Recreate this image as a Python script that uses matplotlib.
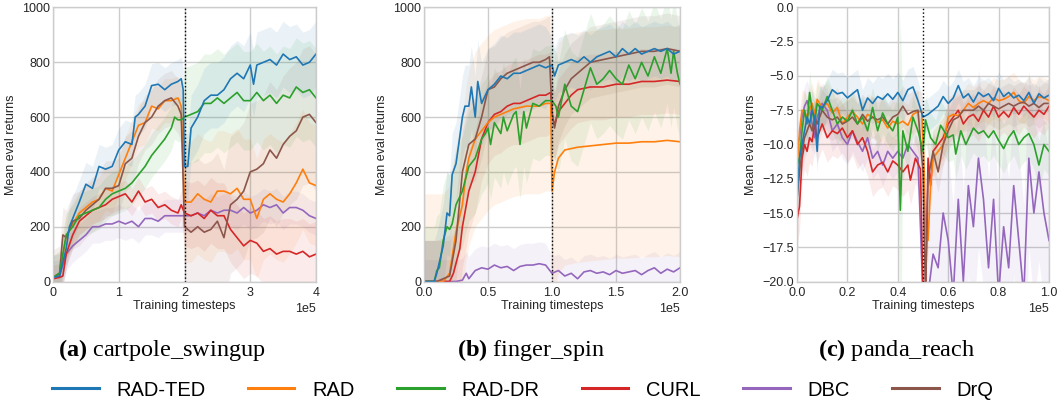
import numpy as np
import matplotlib
matplotlib.use("Agg")
import matplotlib.pyplot as plt
from matplotlib.lines import Line2D

plt.rcParams.update({
    "font.family": ["Liberation Sans", "DejaVu Sans"],
    "font.size": 9,
    "axes.edgecolor": "#cccccc",
    "axes.linewidth": 1.0,
    "axes.grid": True,
    "grid.color": "#cccccc",
    "grid.linewidth": 1.0,
    "xtick.major.size": 0,
    "ytick.major.size": 0,
    "xtick.major.pad": 4,
    "ytick.major.pad": 2,
    "xtick.color": "#262626",
    "ytick.color": "#262626",
    "axes.labelcolor": "#262626",
    "mathtext.fontset": "custom",
    "mathtext.rm": "Liberation Serif",
    "mathtext.bf": "Liberation Serif:bold",
})

METHODS = ["RAD-TED", "RAD", "RAD-DR", "CURL", "DBC", "DrQ"]
COLORS = ["#1f77b4", "#ff7f0e", "#2ca02c", "#d62728", "#9467bd", "#8c564b"]
CAPTIONS = [r"$\mathbf{(a)}$ cartpole_swingup", r"$\mathbf{(b)}$ finger_spin", r"$\mathbf{(c)}$ panda_reach"]

# ---------------- Panel (a) cartpole_swingup (x in 1e5 steps) ----------------
A_SWITCH = 2.0
A_TED_X = [0, 0.1, 0.2, 0.25, 0.3, 0.4, 0.5, 0.6, 0.7, 0.8, 0.9, 1.0, 1.1, 1.2, 1.25, 1.3, 1.4, 1.5, 1.6, 1.7, 1.8, 1.9, 1.95, 1.98, 2.0, 2.05, 2.1, 2.2, 2.3, 2.4, 2.5, 2.6, 2.7, 2.8, 2.9, 3.0, 3.05, 3.1, 3.2, 3.3, 3.4, 3.5, 3.6, 3.7, 3.8, 3.9, 4.0]
A_TED_Y = [15, 20, 120, 200, 230, 290, 355, 340, 420, 410, 420, 480, 510, 500, 600, 610, 640, 715, 720, 700, 720, 730, 740, 700, 420, 420, 560, 600, 660, 680, 680, 700, 740, 760, 740, 790, 720, 790, 800, 810, 790, 830, 810, 820, 790, 800, 830]
A_RAD_X = [0, 0.1, 0.2, 0.3, 0.4, 0.5, 0.6, 0.7, 0.8, 0.9, 1.0, 1.1, 1.2, 1.3, 1.4, 1.5, 1.6, 1.7, 1.8, 1.9, 1.95, 2.0, 2.1, 2.2, 2.3, 2.4, 2.5, 2.6, 2.7, 2.8, 2.9, 3.0, 3.1, 3.2, 3.3, 3.4, 3.5, 3.6, 3.7, 3.8, 3.9, 4.0]
A_RAD_Y = [15, 30, 160, 210, 250, 270, 290, 300, 340, 330, 390, 450, 510, 570, 580, 640, 630, 660, 660, 670, 640, 290, 290, 320, 300, 290, 330, 330, 320, 340, 300, 300, 230, 300, 320, 300, 290, 320, 360, 410, 360, 350]
A_DR_X = [0, 0.1, 0.2, 0.3, 0.4, 0.5, 0.6, 0.7, 0.8, 0.9, 1.0, 1.1, 1.2, 1.3, 1.4, 1.5, 1.6, 1.7, 1.8, 1.85, 1.9, 1.95, 2.0, 2.1, 2.2, 2.3, 2.4, 2.5, 2.6, 2.7, 2.8, 2.9, 3.0, 3.1, 3.2, 3.3, 3.4, 3.5, 3.6, 3.7, 3.8, 3.9, 4.0]
A_DR_Y = [15, 30, 170, 200, 240, 250, 260, 270, 300, 320, 330, 340, 360, 390, 420, 460, 490, 520, 560, 600, 590, 590, 600, 610, 620, 650, 650, 670, 650, 670, 690, 660, 660, 690, 660, 680, 650, 680, 670, 710, 690, 700, 670]
A_CURL_X = [0, 0.1, 0.15, 0.2, 0.3, 0.4, 0.5, 0.6, 0.7, 0.8, 0.9, 1.0, 1.1, 1.2, 1.3, 1.4, 1.5, 1.6, 1.7, 1.8, 1.9, 1.95, 2.0, 2.1, 2.2, 2.3, 2.4, 2.5, 2.6, 2.7, 2.8, 2.9, 3.0, 3.1, 3.2, 3.3, 3.4, 3.5, 3.6, 3.7, 3.8, 3.9, 4.0]
A_CURL_Y = [10, 15, 20, 100, 170, 220, 240, 260, 270, 280, 300, 310, 320, 290, 330, 290, 300, 270, 280, 260, 250, 280, 250, 240, 250, 230, 260, 240, 240, 190, 160, 130, 150, 140, 110, 120, 100, 110, 110, 100, 110, 90, 100]
A_DBC_X = [0, 0.1, 0.2, 0.3, 0.4, 0.5, 0.6, 0.7, 0.8, 0.9, 1.0, 1.1, 1.2, 1.3, 1.4, 1.5, 1.6, 1.7, 1.8, 1.9, 2.0, 2.1, 2.2, 2.3, 2.4, 2.5, 2.6, 2.7, 2.8, 2.9, 3.0, 3.1, 3.2, 3.3, 3.4, 3.5, 3.6, 3.7, 3.8, 3.9, 4.0]
A_DBC_Y = [15, 20, 100, 130, 150, 170, 200, 200, 210, 210, 220, 210, 220, 200, 230, 230, 220, 240, 240, 240, 240, 240, 250, 240, 260, 250, 260, 260, 250, 270, 250, 260, 280, 270, 280, 250, 270, 270, 260, 240, 230]
A_DRQ_X = [0, 0.1, 0.15, 0.2, 0.3, 0.4, 0.5, 0.6, 0.7, 0.8, 0.9, 1.0, 1.1, 1.2, 1.3, 1.4, 1.5, 1.6, 1.7, 1.8, 1.9, 1.95, 2.0, 2.1, 2.2, 2.3, 2.4, 2.5, 2.6, 2.7, 2.8, 2.9, 3.0, 3.1, 3.2, 3.3, 3.4, 3.5, 3.6, 3.7, 3.8, 3.9, 4.0]
A_DRQ_Y = [15, 30, 170, 160, 220, 230, 260, 280, 300, 340, 340, 350, 430, 450, 530, 580, 600, 640, 660, 670, 640, 610, 200, 180, 200, 180, 190, 220, 160, 280, 300, 330, 400, 410, 430, 480, 450, 500, 530, 550, 600, 610, 580]
A_SPREAD_PRE = [80, 80, 80, 50, 60, 100]
A_SPREAD_POST = [120, 220, 180, 120, 60, 250]

# ---------------- Panel (b) finger_spin ----------------
B_SWITCH = 1.0
B_TED_X = [0, 0.05, 0.08, 0.1, 0.15, 0.18, 0.2, 0.22, 0.25, 0.28, 0.3, 0.32, 0.35, 0.37, 0.4, 0.42, 0.45, 0.5, 0.55, 0.6, 0.65, 0.7, 0.75, 0.8, 0.85, 0.9, 0.95, 1.0, 1.02, 1.05, 1.1, 1.15, 1.2, 1.25, 1.3, 1.35, 1.4, 1.45, 1.5, 1.55, 1.6, 1.65, 1.7, 1.75, 1.8, 1.85, 1.9, 1.95, 2.0]
B_TED_Y = [0, 0, 0, 30, 130, 250, 240, 390, 430, 530, 600, 640, 640, 710, 600, 730, 650, 700, 720, 750, 740, 760, 760, 770, 780, 790, 780, 790, 750, 790, 800, 810, 800, 820, 800, 820, 830, 840, 820, 850, 830, 850, 830, 840, 850, 840, 850, 830, 840]
B_RAD_X = [0, 0.15, 0.2, 0.25, 0.3, 0.33, 0.35, 0.4, 0.45, 0.5, 0.55, 0.6, 0.7, 0.8, 0.9, 0.95, 0.99, 1.0, 1.02, 1.05, 1.1, 1.2, 1.3, 1.4, 1.5, 1.6, 1.7, 1.8, 1.9, 2.0]
B_RAD_Y = [0, 0, 30, 180, 280, 400, 450, 520, 550, 580, 600, 610, 630, 640, 640, 650, 650, 330, 400, 450, 480, 490, 495, 500, 505, 505, 510, 510, 515, 510]
B_DR_X = [0, 0.08, 0.1, 0.12, 0.15, 0.18, 0.2, 0.22, 0.25, 0.3, 0.35, 0.4, 0.45, 0.48, 0.5, 0.52, 0.55, 0.6, 0.62, 0.65, 0.7, 0.72, 0.75, 0.78, 0.8, 0.85, 0.9, 0.95, 1.0, 1.03, 1.05, 1.1, 1.15, 1.2, 1.25, 1.3, 1.35, 1.4, 1.45, 1.5, 1.55, 1.6, 1.65, 1.7, 1.75, 1.8, 1.85, 1.9, 1.93, 1.95, 1.98, 2.0]
B_DR_Y = [0, 0, 40, 50, 150, 200, 190, 210, 280, 330, 420, 450, 520, 540, 560, 500, 580, 540, 600, 550, 610, 620, 500, 620, 560, 650, 640, 660, 660, 640, 600, 720, 640, 620, 700, 780, 720, 740, 770, 740, 720, 790, 740, 800, 750, 820, 760, 850, 760, 840, 760, 720]
B_CURL_X = [0, 0.2, 0.23, 0.28, 0.3, 0.35, 0.4, 0.45, 0.5, 0.55, 0.6, 0.65, 0.7, 0.75, 0.8, 0.85, 0.9, 0.95, 0.99, 1.0, 1.02, 1.05, 1.1, 1.15, 1.2, 1.3, 1.4, 1.5, 1.6, 1.7, 1.8, 1.9, 2.0]
B_CURL_Y = [0, 0, 30, 120, 200, 330, 400, 520, 580, 610, 620, 640, 650, 650, 660, 670, 680, 680, 690, 610, 570, 620, 650, 680, 700, 710, 710, 720, 720, 730, 730, 735, 730]
B_DBC_X = [0, 0.25, 0.3, 0.33, 0.35, 0.4, 0.45, 0.5, 0.55, 0.6, 0.65, 0.7, 0.75, 0.8, 0.85, 0.9, 0.95, 1.0, 1.05, 1.1, 1.15, 1.2, 1.25, 1.3, 1.35, 1.4, 1.45, 1.5, 1.55, 1.6, 1.65, 1.7, 1.75, 1.8, 1.85, 1.9, 1.95, 2.0]
B_DBC_Y = [0, 0, 5, 30, 10, 40, 50, 45, 60, 50, 55, 40, 55, 60, 60, 65, 60, 30, 40, 20, 30, 10, 35, 40, 30, 35, 25, 40, 30, 35, 40, 25, 40, 50, 30, 45, 35, 50]
B_DRQ_X = [0, 0.1, 0.15, 0.2, 0.25, 0.28, 0.3, 0.35, 0.4, 0.45, 0.5, 0.55, 0.6, 0.65, 0.7, 0.75, 0.8, 0.85, 0.9, 0.95, 0.98, 1.0, 1.02, 1.05, 1.1, 1.15, 1.2, 1.3, 1.4, 1.5, 1.6, 1.7, 1.8, 1.9, 2.0]
B_DRQ_Y = [0, 0, 10, 20, 150, 300, 400, 500, 520, 600, 700, 710, 740, 760, 770, 780, 790, 800, 800, 810, 820, 620, 560, 640, 700, 740, 760, 800, 810, 820, 830, 840, 840, 850, 840]
B_SPREAD_PRE = [150, 320, 200, 150, 80, 150]
B_SPREAD_POST = [100, 420, 200, 120, 60, 130]

# ---------------- Panel (c) panda_reach ----------------
C_SWITCH = 0.5
C_TED_X = [0, 0.01, 0.02, 0.03, 0.04, 0.05, 0.06, 0.07, 0.08, 0.09, 0.1, 0.12, 0.14, 0.16, 0.18, 0.2, 0.22, 0.24, 0.26, 0.28, 0.3, 0.32, 0.34, 0.36, 0.38, 0.4, 0.42, 0.44, 0.46, 0.48, 0.5, 0.52, 0.54, 0.56, 0.58, 0.6, 0.62, 0.64, 0.66, 0.68, 0.7, 0.72, 0.74, 0.76, 0.78, 0.8, 0.82, 0.84, 0.86, 0.88, 0.9, 0.92, 0.94, 0.96, 0.98, 1.0]
C_TED_Y = [-14, -11, -10, -9, -8, -8.5, -7.5, -8, -10.5, -7.2, -7.3, -6.8, -6, -6.3, -6.2, -6.6, -6.3, -6, -7.5, -6.6, -7, -6.5, -6.7, -6.3, -6.7, -6.2, -6.8, -6, -5.8, -6.8, -8, -7.8, -7.5, -7.2, -6.5, -7, -6.6, -5.7, -6.6, -6.3, -6.9, -6.2, -6.5, -6.3, -6.8, -5.9, -6.5, -6.2, -6.6, -6.4, -6.8, -6.2, -7, -6.3, -6.6, -6.4]
C_RAD_X = [0, 0.01, 0.02, 0.03, 0.04, 0.05, 0.06, 0.07, 0.08, 0.1, 0.12, 0.14, 0.16, 0.18, 0.2, 0.22, 0.24, 0.26, 0.28, 0.3, 0.32, 0.34, 0.36, 0.38, 0.4, 0.42, 0.44, 0.46, 0.48, 0.495, 0.505, 0.51, 0.52, 0.53, 0.54, 0.56, 0.58, 0.6, 0.62, 0.64, 0.66, 0.68, 0.7, 0.72, 0.74, 0.76, 0.78, 0.8, 0.82, 0.84, 0.86, 0.88, 0.9, 0.92, 0.94, 0.96, 0.98, 1.0]
C_RAD_Y = [-12, -9, -7.5, -7.6, -8.0, -7.5, -7.0, -7.8, -6.7, -7.3, -7.0, -7.7, -7.3, -8.5, -8.0, -7.6, -8.0, -8.5, -7.8, -8.0, -8.4, -8.2, -8.8, -8.3, -8.5, -8.3, -8.6, -7.8, -7.6, -7.6, -12, -16.9, -17, -13, -11, -10.5, -10, -8.0, -7.8, -7.9, -7.5, -7.0, -7.3, -7.0, -6.8, -7.0, -6.6, -6.8, -6.7, -6.5, -6.2, -6.8, -7.0, -6.5, -6.8, -6.5, -6.6, -6.8]
C_DR_X = [0, 0.01, 0.02, 0.03, 0.04, 0.05, 0.06, 0.07, 0.08, 0.1, 0.12, 0.14, 0.16, 0.18, 0.2, 0.22, 0.24, 0.26, 0.28, 0.3, 0.32, 0.34, 0.36, 0.38, 0.4, 0.41, 0.42, 0.44, 0.46, 0.48, 0.5, 0.51, 0.53, 0.55, 0.57, 0.6, 0.62, 0.63, 0.65, 0.67, 0.7, 0.72, 0.74, 0.76, 0.78, 0.8, 0.82, 0.84, 0.86, 0.88, 0.9, 0.92, 0.94, 0.96, 0.98, 1.0]
C_DR_Y = [-11.5, -11, -9, -7.5, -8.5, -6.2, -7.5, -8.5, -7.0, -7.5, -6.5, -7.5, -8.5, -8.0, -8.3, -7.5, -8.5, -8.0, -9.0, -7.3, -9.0, -7.7, -8.5, -9.0, -8.0, -14.8, -9.0, -10.5, -8.0, -9.0, -10.5, -8.2, -9.5, -10, -8.6, -9.5, -9.3, -10.7, -9, -10, -8.8, -9.2, -9.0, -9.5, -9.0, -9.7, -10.3, -9.5, -9.0, -10.0, -9.5, -9.2, -10.0, -11.5, -10, -10.5]
C_CURL_X = [0, 0.01, 0.02, 0.03, 0.04, 0.05, 0.06, 0.07, 0.08, 0.1, 0.12, 0.14, 0.16, 0.18, 0.2, 0.22, 0.24, 0.26, 0.28, 0.3, 0.32, 0.34, 0.36, 0.38, 0.4, 0.42, 0.44, 0.45, 0.47, 0.49, 0.5, 0.51, 0.52, 0.53, 0.54, 0.56, 0.58, 0.6, 0.62, 0.64, 0.66, 0.68, 0.7, 0.72, 0.74, 0.76, 0.78, 0.8, 0.82, 0.84, 0.86, 0.88, 0.9, 0.92, 0.94, 0.96, 0.98, 1.0]
C_CURL_Y = [-15.5, -14.5, -11, -10, -10.5, -9.5, -9.8, -8.5, -9.5, -8.5, -9.5, -9.0, -9.2, -8.8, -9.5, -9.0, -10, -9.5, -10.5, -12, -11.5, -11.3, -12.0, -11.2, -11.5, -12.0, -11.5, -12.6, -11, -11.8, -21, -21, -11, -13, -10.5, -10.0, -9.5, -8.5, -8.0, -7.5, -8.5, -8.0, -7.8, -8.3, -7.5, -8.0, -7.2, -8.0, -7.6, -8.0, -7.3, -7.8, -7.2, -7.6, -8.0, -7.5, -7.8, -7.2]
C_DBC_X = [0, 0.01, 0.02, 0.03, 0.04, 0.05, 0.06, 0.07, 0.08, 0.1, 0.12, 0.14, 0.16, 0.18, 0.2, 0.22, 0.24, 0.26, 0.28, 0.3, 0.32, 0.34, 0.36, 0.38, 0.4, 0.42, 0.44, 0.46, 0.48, 0.5, 0.52, 0.54, 0.56, 0.58, 0.6, 0.62, 0.64, 0.66, 0.68, 0.7, 0.72, 0.74, 0.76, 0.78, 0.8, 0.82, 0.84, 0.86, 0.88, 0.9, 0.92, 0.94, 0.96, 0.98, 1.0]
C_DBC_Y = [-10, -9.5, -8, -7.2, -6.8, -7.5, -8.5, -9.5, -8.0, -7.0, -7.5, -9.0, -8.5, -9.5, -10.0, -9.0, -9.8, -10.5, -9.5, -11, -10.5, -11.5, -10.5, -11.0, -10.5, -11.0, -10.0, -10.5, -11.0, -21, -21, -18, -19, -15, -17, -21, -14, -20, -13, -16, -11, -14, -19, -14, -21, -16, -19, -13, -17, -21, -11, -15, -12, -15, -17]
C_DRQ_X = [0, 0.01, 0.02, 0.03, 0.04, 0.05, 0.06, 0.07, 0.08, 0.1, 0.12, 0.14, 0.16, 0.18, 0.2, 0.22, 0.24, 0.26, 0.28, 0.3, 0.32, 0.34, 0.36, 0.38, 0.4, 0.42, 0.44, 0.46, 0.48, 0.5, 0.51, 0.52, 0.54, 0.56, 0.58, 0.6, 0.62, 0.64, 0.66, 0.68, 0.7, 0.72, 0.74, 0.76, 0.78, 0.8, 0.82, 0.84, 0.86, 0.88, 0.9, 0.92, 0.94, 0.96, 0.98, 1.0]
C_DRQ_Y = [-14, -12, -10.5, -9.5, -9, -8.5, -9.0, -8.0, -8.5, -7.5, -8.0, -8.2, -8.0, -8.5, -8.3, -8.0, -8.5, -7.8, -8.3, -8.0, -8.2, -8.0, -8.5, -8.0, -7.8, -7.2, -7.8, -7.6, -7.5, -12, -21, -12.5, -10.5, -12.0, -10.0, -9.0, -8.2, -8.0, -7.5, -7.5, -7.5, -7.2, -7.5, -7.0, -7.2, -7.4, -7.2, -7.0, -7.2, -7.0, -6.9, -7.2, -7.0, -7.3, -7.0, -7.0]
C_SPREAD_PRE = [1.5, 1.5, 1.5, 1.8, 1.5, 1.5]
C_SPREAD_POST = [1.2, 1.5, 1.8, 1.5, 6.5, 1.5]
# RAD-DR has one very wide spread point in panel (c) at x = 0.41
C_DR_SPIKE_X = 0.41
C_DR_SPIKE_SPREAD = 14.0

PANELS = [
    dict(xs=[A_TED_X, A_RAD_X, A_DR_X, A_CURL_X, A_DBC_X, A_DRQ_X],
         ys=[A_TED_Y, A_RAD_Y, A_DR_Y, A_CURL_Y, A_DBC_Y, A_DRQ_Y],
         pre=A_SPREAD_PRE, post=A_SPREAD_POST, switch=A_SWITCH, spike=None,
         xlim=(0, 4), ylim=(0, 1000), xticks=[0, 1, 2, 3, 4], yticks=[0, 200, 400, 600, 800, 1000]),
    dict(xs=[B_TED_X, B_RAD_X, B_DR_X, B_CURL_X, B_DBC_X, B_DRQ_X],
         ys=[B_TED_Y, B_RAD_Y, B_DR_Y, B_CURL_Y, B_DBC_Y, B_DRQ_Y],
         pre=B_SPREAD_PRE, post=B_SPREAD_POST, switch=B_SWITCH, spike=None,
         xlim=(0, 2), ylim=(0, 1000), xticks=[0, 0.5, 1.0, 1.5, 2.0], yticks=[0, 200, 400, 600, 800, 1000]),
    dict(xs=[C_TED_X, C_RAD_X, C_DR_X, C_CURL_X, C_DBC_X, C_DRQ_X],
         ys=[C_TED_Y, C_RAD_Y, C_DR_Y, C_CURL_Y, C_DBC_Y, C_DRQ_Y],
         pre=C_SPREAD_PRE, post=C_SPREAD_POST, switch=C_SWITCH,
         spike=(2, C_DR_SPIKE_X, C_DR_SPIKE_SPREAD),
         xlim=(0, 1), ylim=(-20, 0), xticks=[0, 0.2, 0.4, 0.6, 0.8, 1.0], yticks=list(np.arange(-20, 0.1, 2.5))),
]

fig = plt.figure(figsize=(10.62, 4.04), dpi=100)
lefts = [53, 424, 797]
rights = [316, 680, 1049]
top, bottom = 7.5, 281.5
W, H = 1062, 404
caption_x = [162, 531, 897]

for i, p in enumerate(PANELS):
    ax = fig.add_axes([lefts[i] / W, 1 - bottom / H, (rights[i] - lefts[i]) / W, (bottom - top) / H])
    ax.set_axisbelow(True)
    order = [4, 3, 1, 5, 2, 0]
    for k in order:
        xr = np.array(p["xs"][k])
        x = xr * 1e5
        y = np.array(p["ys"][k], dtype=float)
        s = np.where(xr < p["switch"], p["pre"][k], p["post"][k]).astype(float)
        if p["spike"] is not None and p["spike"][0] == k:
            s[np.isclose(xr, p["spike"][1])] = p["spike"][2]
        ax.fill_between(x, y - s, y + s, color=COLORS[k], alpha=0.09, linewidth=0)
    for k in order:
        x = np.array(p["xs"][k]) * 1e5
        ax.plot(x, p["ys"][k], color=COLORS[k], lw=1.2)
    ax.axvline(p["switch"] * 1e5, color="black", ls=":", lw=1.0)
    ax.set_xlim(p["xlim"][0] * 1e5, p["xlim"][1] * 1e5)
    ax.set_ylim(*p["ylim"])
    ax.set_xticks(np.array(p["xticks"]) * 1e5)
    ax.set_yticks(p["yticks"])
    ax.ticklabel_format(style="sci", axis="x", scilimits=(0, 0))
    ax.xaxis.get_offset_text().set_fontsize(9)
    ax.set_xlabel("Training timesteps", labelpad=1)
    ax.set_ylabel("Mean eval returns", labelpad=4)
    for sp in ax.spines.values():
        sp.set_color("#cccccc")
    fig.text(caption_x[i] / W, 1 - 350 / H, CAPTIONS[i], family="Liberation Serif",
             fontsize=17.5, ha="center", va="center")

handles = [Line2D([], [], color=c, lw=2.2) for c in COLORS]
fig.legend(handles, METHODS, loc="center", bbox_to_anchor=(523 / W, 1 - 390 / H), ncol=6,
           frameon=False, fontsize=14.5, handlelength=2.3, handletextpad=0.9, columnspacing=2.1)

fig.savefig("out.png", dpi=100)
